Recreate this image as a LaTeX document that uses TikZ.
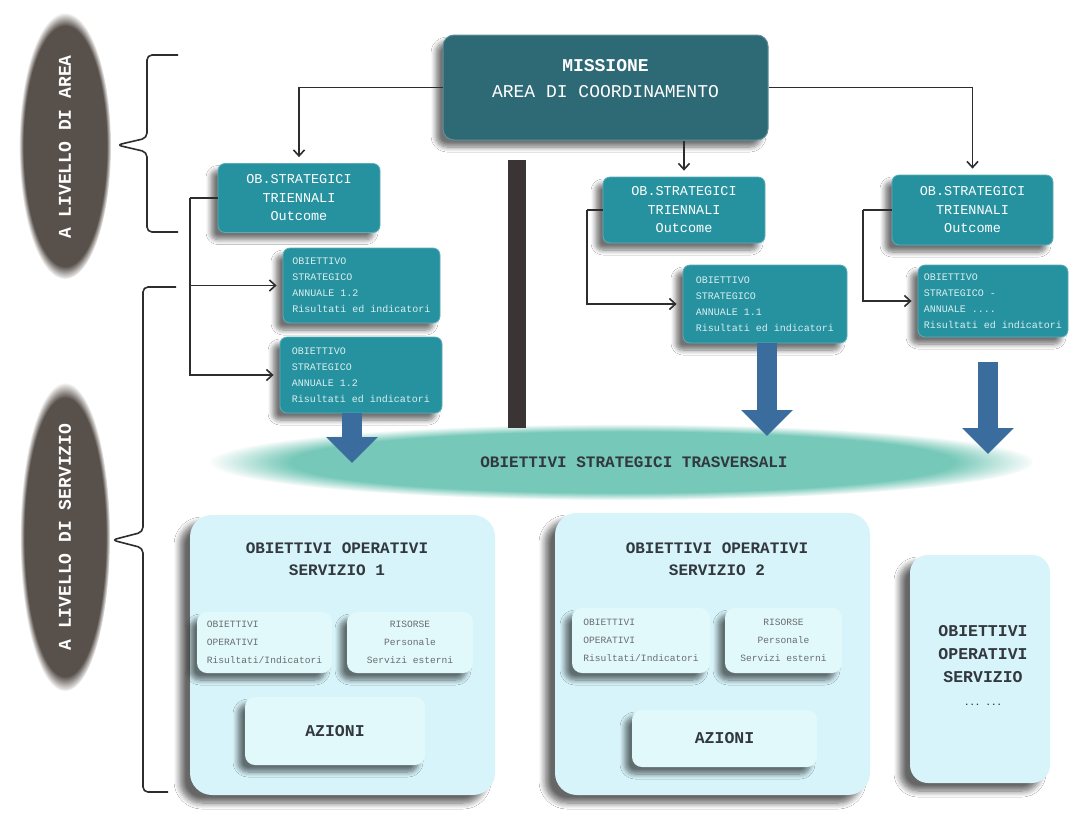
\documentclass[tikz,border=0pt]{standalone}
\usepackage{fontspec}
\setmonofont{Liberation Mono}
\usetikzlibrary{arrows.meta,shadows.blur,fadings}

\definecolor{dteal}{RGB}{46,106,118}
\definecolor{mteal}{RGB}{38,146,160}
\definecolor{lcyan}{RGB}{214,244,250}
\definecolor{scyan}{RGB}{226,249,252}
\definecolor{bandc}{RGB}{118,200,184}
\definecolor{barc}{RGB}{58,52,52}
\definecolor{blarrow}{RGB}{58,108,158}
\definecolor{ovalc}{RGB}{88,80,74}
\definecolor{linec}{RGB}{45,45,45}
\definecolor{txtd}{RGB}{50,56,62}
\definecolor{txtg}{RGB}{105,108,110}
\definecolor{txtl}{RGB}{218,238,240}

\newcommand{\fsz}[2]{\fontsize{#1}{#2}\selectfont}

\begin{document}
\begin{tikzpicture}[x=1pt,y=-1pt,
  shd/.style={blur shadow={shadow xshift=-7pt,shadow yshift=-7pt,shadow blur steps=8,shadow blur radius=5pt,shadow opacity=55}},
  mbox/.style={draw=dteal!75!white, line width=1pt, fill=dteal, rounded corners=11pt, shd, inner sep=0pt},
  tbox/.style={draw=mteal!75!white, line width=0.8pt, fill=mteal, rounded corners=7pt, shd, text=txtl, inner sep=0pt, font=\ttfamily},
  bigbox/.style={fill=lcyan, rounded corners=22pt, blur shadow={shadow xshift=-10pt,shadow yshift=-8pt,shadow blur steps=8,shadow blur radius=6pt,shadow opacity=60}, inner sep=0pt},
  subbox/.style={fill=scyan, rounded corners=10pt, shd, inner sep=0pt, font=\ttfamily},
  conn/.style={draw=linec, line width=1.6pt},
  arr/.style={conn, -{Straight Barb[length=6pt,width=11pt]}, shorten >=6pt},
  bluearr/.style={draw=blarrow, line width=20pt, -{Triangle[length=26pt,width=50pt]}},
  brace/.style={draw=linec, line width=1.6pt, rounded corners=5pt},
  ovtext/.style={rotate=90, text=white, font=\ttfamily\bfseries\fsz{18}{20}},
]
\useasboundingbox (0,0) rectangle (1071,812);
\fill[white] (0,0) rectangle (1071,812);

% ---- left ovals ----
\fill[ovalc, path fading=circle with fuzzy edge 10 percent] (65,146) ellipse [x radius=46, y radius=133];
\node[ovtext] (ov1) at (65,147) {A LIVELLO DI AREA};
\fill[ovalc, path fading=circle with fuzzy edge 10 percent] (65,537) ellipse [x radius=45, y radius=154];
\node[ovtext] (ov2) at (65,537) {A LIVELLO DI SERVIZIO};

% ---- braces ----
\draw[brace] (178,55) -- (147,55) -- (147,138) -- (117,145) -- (147,152) -- (147,232) -- (178,232);
\draw[brace] (176,287) -- (143,287) -- (143,532) -- (112,540) -- (143,548) -- (143,792) -- (168,792);

% ---- band ----
\fill[bandc, path fading=circle with fuzzy edge 20 percent] (622,462) ellipse [x radius=412, y radius=38];

% ---- mission ----
\node[mbox, minimum width=325pt, minimum height=105pt] (mis) at (605.5,87.5) {};
\node[text=white, font=\ttfamily\fsz{18}{26}, align=center] (mist) at (605.5,79) {\textbf{MISSIONE}\\AREA DI COORDINAMENTO};

% ---- triennial objectives ----
\node[tbox, minimum width=162pt, minimum height=69pt, align=center, font=\ttfamily\fsz{13.5}{18.5}, text=white] (ob1) at (299,198) {OB.STRATEGICI\\TRIENNALI\\Outcome};
\node[tbox, minimum width=162pt, minimum height=66pt, align=center, font=\ttfamily\fsz{13.5}{18.5}, text=white] (ob2) at (684,210) {OB.STRATEGICI\\TRIENNALI\\Outcome};
\node[tbox, minimum width=161pt, minimum height=70pt, align=center, font=\ttfamily\fsz{13.5}{18.5}, text=white] (ob3) at (972.5,210) {OB.STRATEGICI\\TRIENNALI\\Outcome};

% ---- annual objectives ----
\node[tbox, minimum width=157pt, minimum height=75pt, align=left, font=\ttfamily\fsz{10}{16}] (a1) at (361.5,285.5) {OBIETTIVO\\STRATEGICO\\ANNUALE 1.2\\Risultati ed indicatori};
\node[tbox, minimum width=162pt, minimum height=76pt, align=left, font=\ttfamily\fsz{10}{16}] (a2) at (361,375) {OBIETTIVO\\STRATEGICO\\ANNUALE 1.2\\Risultati ed indicatori};
\node[tbox, minimum width=164pt, minimum height=78pt, align=left, font=\ttfamily\fsz{10}{16}] (a3) at (765,304) {OBIETTIVO\\STRATEGICO\\ANNUALE 1.1\\Risultati ed indicatori};
\node[tbox, minimum width=150pt, minimum height=72pt, align=left, font=\ttfamily\fsz{10}{16}] (a4) at (993,301) {OBIETTIVO\\STRATEGICO -\\ANNUALE ....\\Risultati ed indicatori};

% ---- connectors ----
\draw[arr] (mis.west) -| (ob1.north);
\draw[arr] (mis.east) -| (ob3.north);
\draw[arr] (mis.south -| ob2.north) -- (ob2.north);
\coordinate (c1) at (190,198);
\coordinate (c2) at (587,210);
\coordinate (c3) at (863,210);
\draw[conn] (ob1.west) -- (c1);
\draw[arr] (c1) |- (a1.west);
\draw[arr] (c1) |- (a2.west);
\draw[conn] (ob2.west) -- (c2);
\draw[arr] (c2) |- (a3.west);
\draw[conn] (ob3.west) -- (c3);
\draw[arr] (c3) |- (a4.west);

% ---- dark bar ----
\coordinate (bart) at (517,160);
\coordinate (barb) at (517,428);
\draw[barc, line width=18pt] (bart) -- (barb);

% ---- blue arrows ----
\coordinate (t2) at (352,463);
\coordinate (t3) at (767,436);
\coordinate (t4) at (988,454);
\coordinate (s4) at (988,362);
\draw[bluearr] (a2.south -| t2) -- (t2);
\draw[bluearr] (a3.south -| t3) -- (t3);
\draw[bluearr] (s4) -- (t4);

\node[text=txtd, font=\ttfamily\bfseries\fsz{16}{18}] (band) at (634,462) {OBIETTIVI STRATEGICI TRASVERSALI};

% ---- service 1 ----
\node[bigbox, minimum width=305pt, minimum height=280pt] (sv1) at (342.5,655) {};
\node[text=txtd, font=\ttfamily\bfseries\fsz{16}{22}, align=center] (sv1t) at (337,559) {OBIETTIVI OPERATIVI\\SERVIZIO 1};
\node[subbox, minimum width=135pt, minimum height=61pt, align=left, text=txtg, font=\ttfamily\fsz{9.6}{18}] (o1) at (264.5,642.5) {OBIETTIVI\\OPERATIVI\\Risultati/Indicatori};
\node[subbox, minimum width=126pt, minimum height=61pt, align=center, text=txtg, font=\ttfamily\fsz{9.6}{18}] (r1) at (410,642.5) {RISORSE\\Personale\\Servizi esterni};
\node[subbox, minimum width=180pt, minimum height=68pt, text=txtd, font=\ttfamily\bfseries\fsz{16.5}{18}] (az1) at (335,731) {AZIONI};

% ---- service 2 ----
\node[bigbox, minimum width=315pt, minimum height=282pt] (sv2) at (712.5,654) {};
\node[text=txtd, font=\ttfamily\bfseries\fsz{16}{22}, align=center] (sv2t) at (717,559) {OBIETTIVI OPERATIVI\\SERVIZIO 2};
\node[subbox, minimum width=138pt, minimum height=65pt, align=left, text=txtg, font=\ttfamily\fsz{9.6}{18}] (o2) at (641,640.5) {OBIETTIVI\\OPERATIVI\\Risultati/Indicatori};
\node[subbox, minimum width=117pt, minimum height=65pt, align=center, text=txtg, font=\ttfamily\fsz{9.6}{18}] (r2) at (783.5,640.5) {RISORSE\\Personale\\Servizi esterni};
\node[subbox, minimum width=185pt, minimum height=57pt, text=txtd, font=\ttfamily\bfseries\fsz{16.5}{18}] (az2) at (724.5,738.5) {AZIONI};

% ---- service 3 ----
\node[bigbox, rounded corners=18pt, minimum width=140pt, minimum height=228pt] (sv3) at (980,669) {};
\node[text=txtd, font=\ttfamily\bfseries\fsz{16.5}{23}, align=center] (sv3t) at (983,665) {OBIETTIVI\\OPERATIVI\\SERVIZIO\\{\fsz{9}{23}... ...}};

\end{tikzpicture}
\end{document}
